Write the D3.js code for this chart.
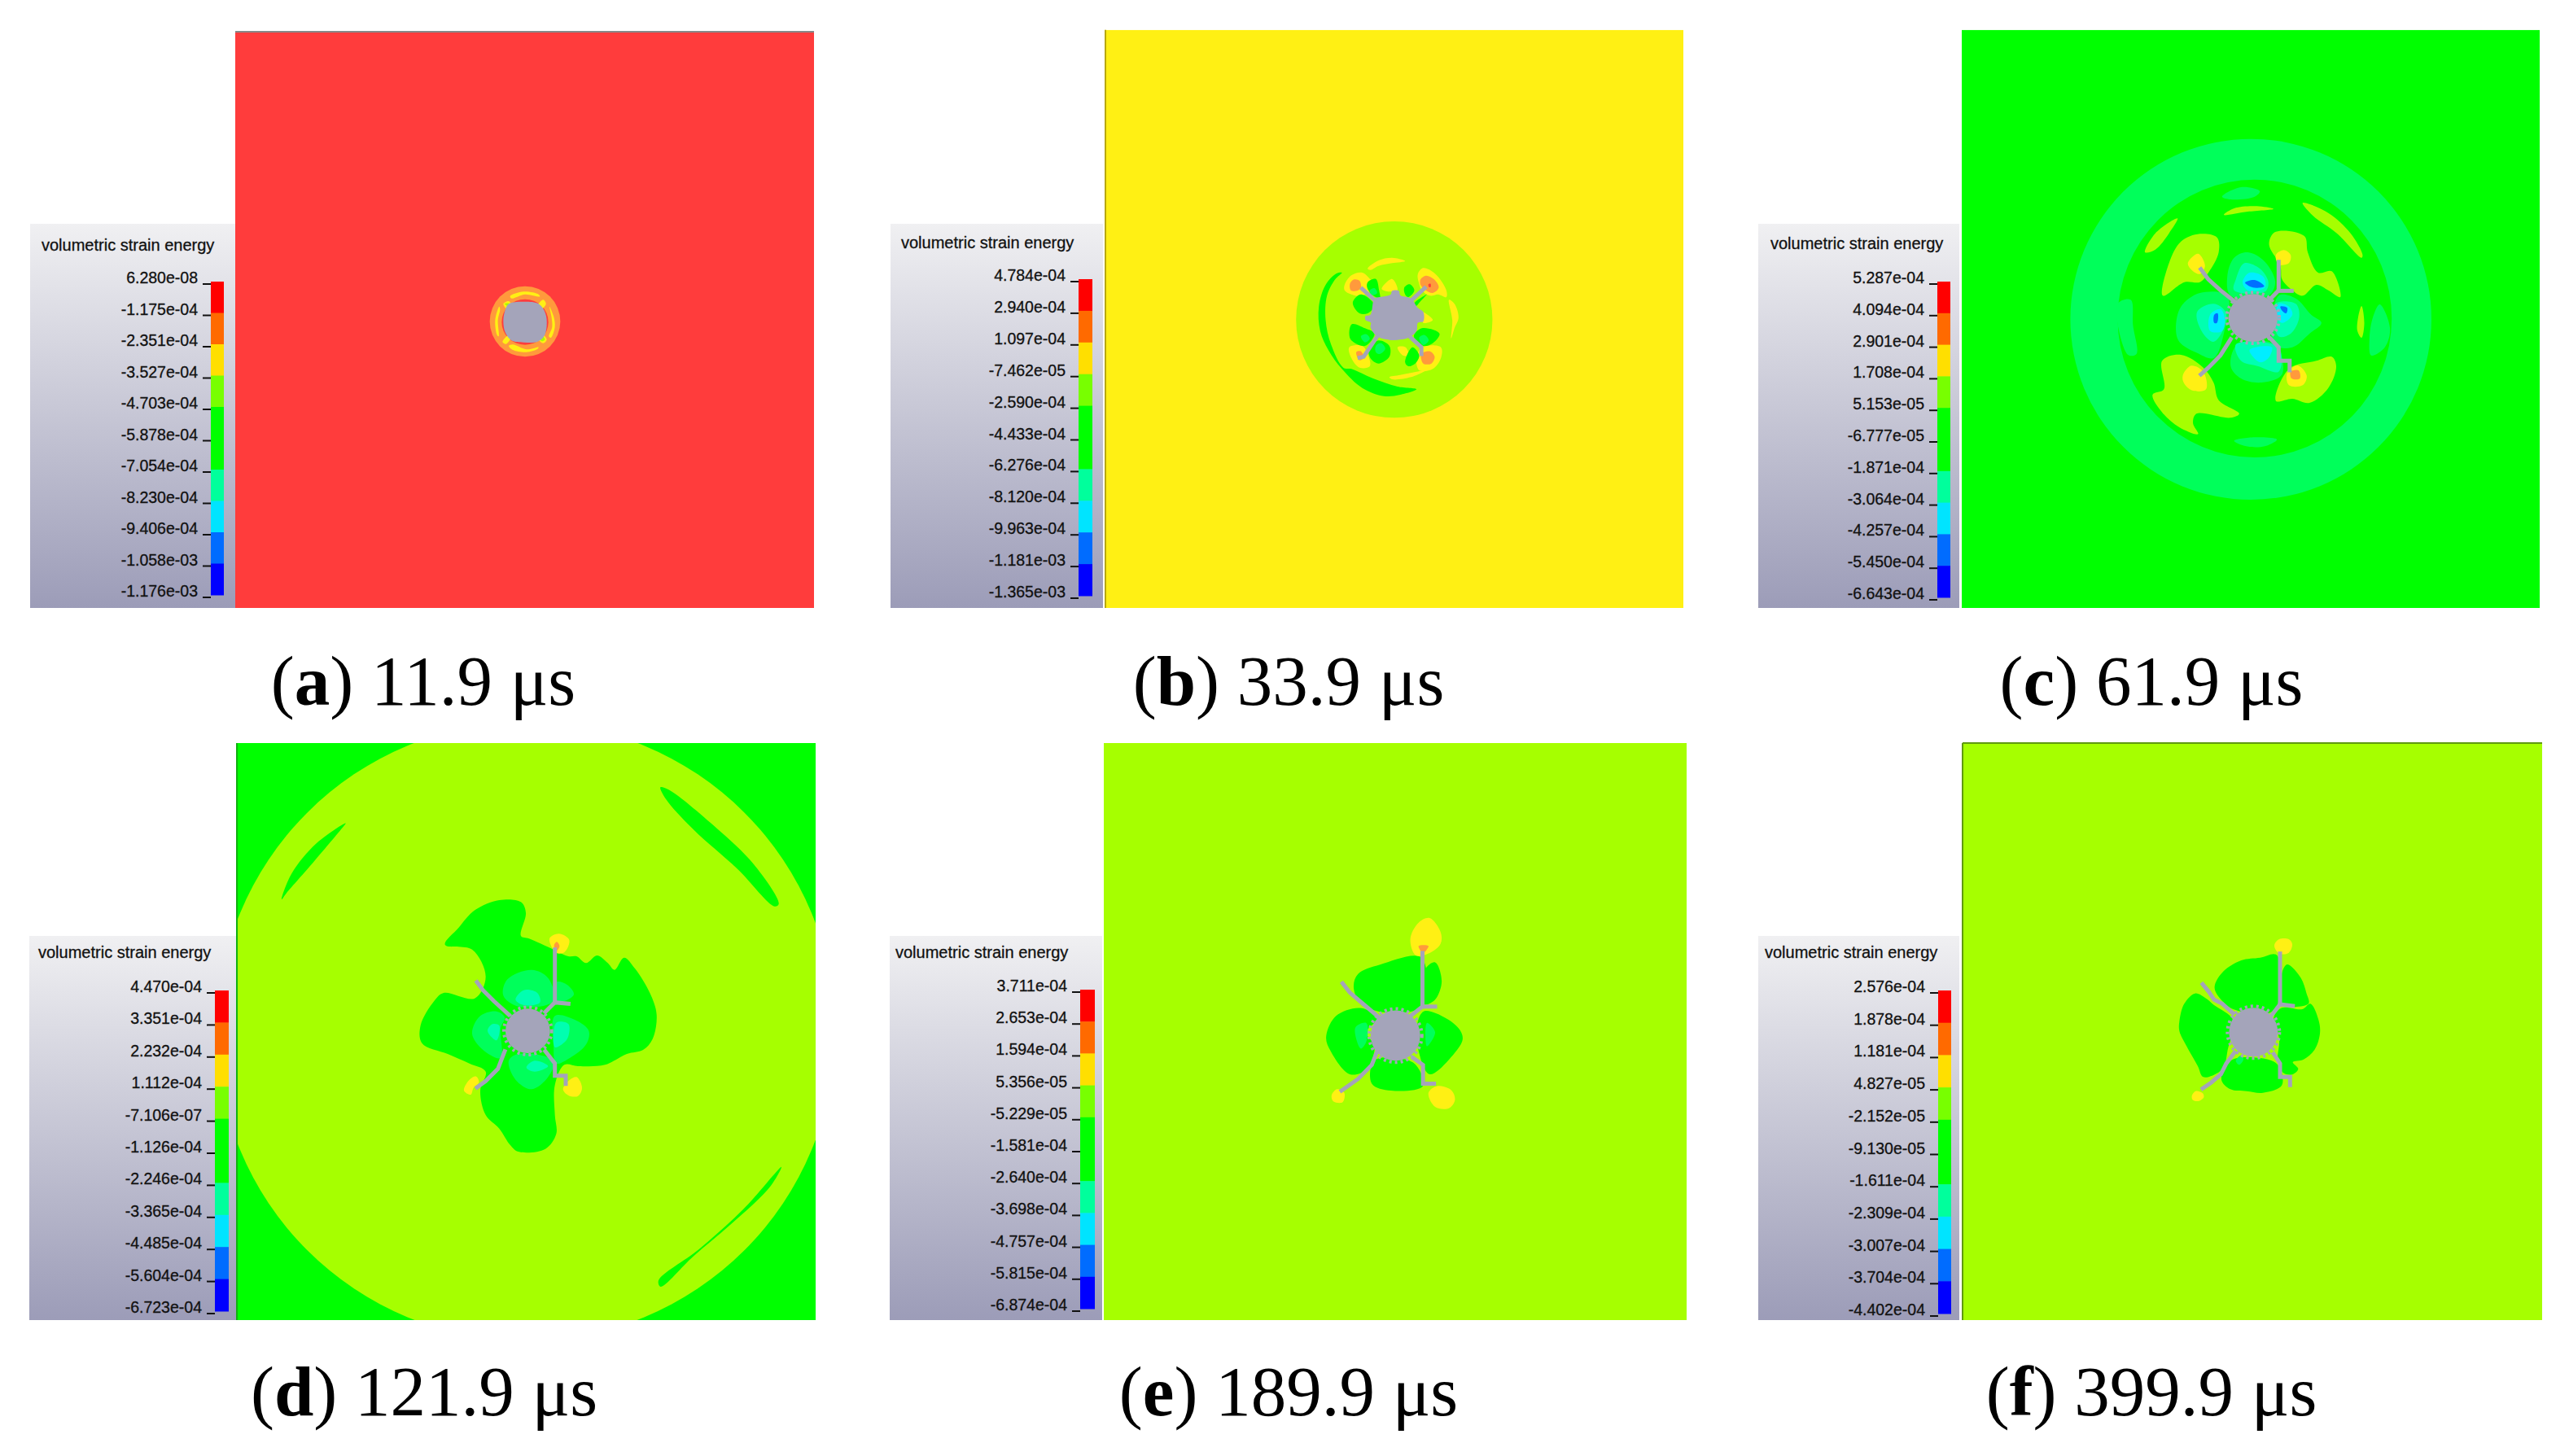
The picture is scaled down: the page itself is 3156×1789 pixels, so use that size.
<!DOCTYPE html>
<html>
<head>
<meta charset="utf-8">
<script src="https://cdn.jsdelivr.net/npm/d3@7"></script>
<style>
  html, body { margin: 0; background: #fff; }
  svg { display: block; }
  .tick-label text { font-family: "Liberation Sans", sans-serif; font-size: 19.5px; fill: #111; stroke: #111; stroke-width: 0.3px; }
</style>
</head>
<body>
<div id="chart"></div>
<script>
// legend tick labels
var labelsA = ["6.280e-08","-1.175e-04","-2.351e-04","-3.527e-04","-4.703e-04","-5.878e-04","-7.054e-04","-8.230e-04","-9.406e-04","-1.058e-03","-1.176e-03"];
var labelsB = ["4.784e-04","2.940e-04","1.097e-04","-7.462e-05","-2.590e-04","-4.433e-04","-6.276e-04","-8.120e-04","-9.963e-04","-1.181e-03","-1.365e-03"];
var labelsC = ["5.287e-04","4.094e-04","2.901e-04","1.708e-04","5.153e-05","-6.777e-05","-1.871e-04","-3.064e-04","-4.257e-04","-5.450e-04","-6.643e-04"];
var labelsD = ["4.470e-04","3.351e-04","2.232e-04","1.112e-04","-7.106e-07","-1.126e-04","-2.246e-04","-3.365e-04","-4.485e-04","-5.604e-04","-6.723e-04"];
var labelsE = ["3.711e-04","2.653e-04","1.594e-04","5.356e-05","-5.229e-05","-1.581e-04","-2.640e-04","-3.698e-04","-4.757e-04","-5.815e-04","-6.874e-04"];
var labelsF = ["2.576e-04","1.878e-04","1.181e-04","4.827e-05","-2.152e-05","-9.130e-05","-1.611e-04","-2.309e-04","-3.007e-04","-3.704e-04","-4.402e-04"];

var legendColours = ["#ff0000","#ff6a00","#ffdf00","#78ff00","#00ff00","#00ff00","#00ff9c","#00e4ff","#006cff","#0000ff"];

// contour fill for each level
var levelNames = ["red","orange","yellow","lime","green","spring","teal","cyan","blue","gray"];
var levelColours = ["#ff3c3c","#ff9a3c","#fff014","#a6ff00","#00ff00","#00ff5a","#00ffb0","#00eeff","#0070ff","#a4a4ba"];

// contour regions in mesh coordinates of each panel: ellipses [level, cx, cy, rx, ry], blobs [level, outline]
var ellipsesA = [["orange",195,195,130,130],["red",195,197,86,84]];
var blobsA = [
  ["yellow",[[140,102],[190,85],[245,95],[250,103],[195,95],[145,110]]],
  ["yellow",[[135,285],[150,280],[200,298],[245,290],[240,297],[200,308],[150,300]]],
  ["yellow",[[85,190],[100,140],[103,150],[95,190],[98,250],[92,245]]],
  ["yellow",[[285,140],[300,175],[305,215],[290,255],[283,250],[295,215],[292,175]]],
  ["yellow",[[115,130],[135,120],[150,145],[135,155]]],
  ["lime",[[120,130],[135,128],[140,143]]],
  ["yellow",[[240,140],[262,115],[272,130],[255,150]]],
  ["yellow",[[240,255],[255,240],[275,262],[262,275]]],
  ["lime",[[247,255],[258,247],[268,262],[258,268]]],
  ["yellow",[[112,270],[138,243],[145,250],[125,278]]],
  ["gray",[[120,160],[135,130],[190,122],[245,130],[270,165],[275,210],[265,250],[240,270],[190,272],[145,265],[122,235],[115,195]]]
];

var ellipsesB = [["lime",458,428,362,362]];
var blobsB = [
  ["green",[[245,258],[205,300],[180,380],[185,470],[215,540],[265,610],[340,680],[420,710],[480,705],[540,685],[470,675],[380,645],[300,610],[270,605],[225,520],[205,430],[210,340],[240,280],[265,255]]],
  ["yellow",[[360,240],[400,210],[450,200],[498,212],[450,220],[400,230],[370,245]]],
  ["yellow",[[275,300],[300,265],[340,255],[370,280],[385,300],[340,340],[300,335],[275,320]]],
  ["orange",[[295,295],[310,280],[330,285],[335,310],[320,322],[298,320]]],
  ["yellow",[[545,260],[565,238],[610,260],[650,320],[650,345],[620,335],[590,340],[560,320],[548,290]]],
  ["orange",[[555,280],[575,266],[605,280],[622,310],[600,330],[575,320],[555,300]]],
  ["red",[[584,298],[592,296],[592,308],[586,308]]],
  ["yellow",[[412,315],[450,278],[470,320],[440,325]]],
  ["yellow",[[660,355],[680,370],[695,420],[680,460],[668,497],[672,430]]],
  ["yellow",[[560,400],[600,430],[565,440]]],
  ["yellow",[[292,530],[340,525],[360,555],[368,600],[330,605],[300,570]]],
  ["orange",[[318,548],[335,545],[345,570],[330,578]]],
  ["yellow",[[540,570],[560,530],[630,530],[630,570],[600,610],[550,615]]],
  ["orange",[[558,555],[590,545],[607,565],[595,590],[565,590]]],
  ["yellow",[[440,640],[480,632],[540,620],[580,612],[520,640],[450,648]]],
  ["yellow",[[470,530],[500,530],[510,560],[490,560]]],
  ["green",[[360,290],[390,278],[402,320],[405,350],[375,335],[358,310]]],
  ["green",[[305,365],[335,335],[385,375],[360,405],[330,405]]],
  ["green",[[495,310],[515,298],[532,320],[510,345],[498,335]]],
  ["green",[[292,480],[302,445],[350,460],[385,480],[350,525],[300,505]]],
  ["green",[[365,535],[400,505],[440,525],[440,565],[400,590],[370,570]]],
  ["green",[[498,585],[525,530],[550,560],[535,590],[510,600]]],
  ["green",[[530,490],[560,460],[625,480],[600,515],[565,525]]],
  ["green",[[530,370],[578,335],[555,360],[538,378]]],
  ["spring",[[368,320],[385,312],[395,330],[375,338]]],
  ["spring",[[335,490],[355,482],[368,498],[350,512]]],
  ["spring",[[390,525],[410,515],[425,535],[405,555],[390,548]]],
  ["spring",[[550,495],[570,485],[585,505],[565,522]]],
  ["gray",[[385,350],[405,345],[445,335],[450,322],[475,322],[480,338],[520,350],[545,385],[565,400],[565,435],[545,440],[540,470],[510,495],[470,503],[440,503],[395,490],[370,455],[372,440],[352,430],[352,415],[370,410]]]
];
var cracksB = [
  [[395,365],[340,315]],
  [[520,358],[570,312]],
  [[395,490],[345,565],[330,568]],
  [[520,495],[558,530],[558,555]]
];

var ellipsesC = [["spring",749,727,527,665],["green",760,724,400,512]];
var blobsC = [
  ["spring",[[360,670],[398,655],[405,750],[415,855],[390,858]]],
  ["spring",[[1125,672],[1155,760],[1140,830],[1100,860],[1095,800],[1105,720]]],
  ["spring",[[665,275],[720,240],[775,255],[760,275],[690,285]]],
  ["spring",[[700,1175],[760,1162],[825,1170],[790,1195],[735,1195]]],
  ["lime",[[670,342],[700,318],[760,310],[815,320],[740,330]]],
  ["lime",[[440,480],[470,410],[535,355],[510,410],[470,470]]],
  ["lime",[[900,298],[975,335],[1040,410],[1075,490],[1072,500],[1000,410],[930,345]]],
  ["lime",[[1072,678],[1080,740],[1072,795],[1060,770],[1062,720]]],
  ["lime",[[492,640],[510,520],[545,440],[600,412],[650,425],[655,480],[625,555],[600,590],[555,590]]],
  ["lime",[[802,450],[820,405],[905,420],[915,480],[945,555],[985,550],[1010,645],[975,620],[940,600],[900,640],[870,620],[840,580],[835,530]]],
  ["lime",[[462,1005],[495,985],[490,880],[545,858],[610,905],[640,960],[655,1025],[715,1075],[690,1090],[590,1075],[580,1110],[595,1150],[540,1125],[490,1070]]],
  ["lime",[[822,1028],[860,910],[940,880],[985,865],[998,900],[975,980],[920,1035],[870,1020]]],
  ["yellow",[[565,520],[595,485],[615,530],[600,560],[580,550]]],
  ["yellow",[[822,490],[845,472],[865,490],[860,520],[830,525]]],
  ["yellow",[[550,935],[575,898],[610,920],[618,985],[580,990],[555,965]]],
  ["yellow",[[855,925],[885,897],[912,935],[900,970],[860,970]]],
  ["orange",[[865,920],[888,915],[892,945],[868,945]]],
  ["spring",[[680,570],[700,500],[740,480],[790,515],[820,590],[800,640],[690,640]]],
  ["spring",[[530,760],[545,680],[600,630],[680,640],[670,780],[640,870],[590,850],[540,810]]],
  ["spring",[[830,640],[880,650],[925,710],[955,740],[920,780],[870,830],[815,820]]],
  ["spring",[[690,900],[710,820],[820,820],[840,930],[780,960],[720,945]]],
  ["teal",[[705,580],[730,520],[775,540],[800,590],[790,625],[700,620]]],
  ["teal",[[592,700],[640,670],[675,700],[670,760],[640,810],[605,770]]],
  ["teal",[[820,670],[880,670],[890,720],[865,780],[830,790]]],
  ["teal",[[705,820],[830,830],[830,920],[770,900],[720,880]]],
  ["cyan",[[725,590],[745,555],[785,570],[790,610],[740,620]]],
  ["cyan",[[630,710],[660,690],[672,720],[665,770],[630,770]]],
  ["cyan",[[830,670],[860,680],[870,710],[840,740],[825,720]]],
  ["cyan",[[745,840],[810,830],[800,870],[775,885]]],
  ["blue",[[732,592],[760,582],[788,605],[755,610]]],
  ["blue",[[642,710],[652,705],[650,740],[642,740]]],
  ["blue",[[835,680],[855,685],[852,705],[840,695]]]
];
var cracksC = [
  [[603,542],[625,580],[660,620],[700,660]],
  [[603,930],[625,905],[660,860],[690,800]],
  [[830,515],[830,620],[800,660]],
  [[830,622],[868,622]],
  [[800,790],[830,830],[830,880],[862,880],[862,915]]
];
var boreC = [755,722,72,88];

var ellipsesD = [["lime",588,652,1140,1140]];
var blobsD = [
  ["green",[[1084,-248],[1114,-239],[1266,-119],[1428,36],[1520,182],[1505,191],[1368,53],[1205,-93],[1104,-205]]],
  ["green",[[-76,-115],[-184,-41],[-275,70],[-312,165],[-295,143],[-194,27],[-93,-93]]],
  ["green",[[1530,1151],[1489,1223],[1347,1360],[1205,1481],[1084,1593],[1077,1570],[1226,1455],[1388,1309]]],
  ["green",[[290,332],[340,270],[400,205],[490,168],[570,175],[588,215],[570,300],[600,310],[690,350],[745,375],[775,375],[810,400],[850,372],[890,400],[915,425],[950,380],[990,420],[1045,510],[1070,590],[1055,680],[1020,720],[960,735],[880,775],[780,780],[730,775],[695,850],[695,960],[700,1030],[660,1085],[560,1095],[530,1070],[490,1010],[440,960],[420,870],[440,800],[380,770],[300,735],[205,695],[200,630],[250,540],[285,510],[400,530],[440,450],[390,350]]],
  ["spring",[[505,520],[520,460],[610,425],[670,455],[690,540],[560,560]]],
  ["spring",[[700,470],[740,480],[765,515],[730,540],[700,540]]],
  ["spring",[[695,595],[770,610],[820,650],[810,700],[750,750],[700,770],[690,700]]],
  ["spring",[[390,660],[420,595],[480,578],[510,600],[495,640],[495,750],[430,720]]],
  ["spring",[[525,760],[560,735],[690,760],[670,820],[610,865],[550,830]]],
  ["teal",[[550,535],[580,500],[630,510],[640,545],[580,555]]],
  ["teal",[[700,620],[745,625],[740,680],[695,710]]],
  ["teal",[[447,650],[465,625],[490,630],[480,685]]],
  ["teal",[[590,785],[620,760],[670,780],[620,800]]],
  ["yellow",[[675,310],[710,292],[748,315],[730,360],[700,362]]],
  ["orange",[[692,335],[702,322],[712,338],[700,355]]],
  ["yellow",[[360,870],[380,830],[405,818],[415,840],[395,860],[385,885]]],
  ["yellow",[[725,865],[750,830],[775,820],[795,860],[780,890],[745,888]]]
];
var cracksD = [
  [[695,545],[695,350]],
  [[660,580],[695,545],[745,550]],
  [[408,470],[430,500],[470,540],[525,590]],
  [[408,858],[440,835],[485,790],[510,725]],
  [[660,725],[695,770],[695,815],[735,815],[735,845]]
];
var boreD = [595,650,82,82];

var blobsE = [
  ["green",[[892,560],[900,535],[940,515],[1015,500],[1015,605],[935,615],[900,590]]],
  ["green",[[1020,600],[1022,525],[1040,510],[1052,550],[1040,590]]],
  ["green",[[842,670],[860,625],[905,608],[935,630],[915,660],[930,690],[915,740],[885,750],[850,700]]],
  ["green",[[1008,640],[1020,615],[1060,630],[1085,655],[1090,675],[1075,705],[1030,750],[1010,700]]],
  ["green",[[925,770],[930,720],[1000,725],[1018,775],[960,785]]],
  ["yellow",[[995,460],[1010,425],[1030,415],[1050,445],[1050,470],[1030,490],[1005,495]]],
  ["orange",[[1010,475],[1028,475],[1018,490]]],
  ["yellow",[[852,795],[862,782],[875,790],[872,810],[855,808]]],
  ["yellow",[[1028,790],[1045,775],[1070,785],[1076,805],[1065,823],[1040,820]]],
  ["spring",[[895,650],[915,640],[915,680],[905,695]]],
  ["spring",[[1025,640],[1040,660],[1025,690]]]
];
var cracksE = [
  [[1017,490],[1017,605]],
  [[1017,605],[1040,605]],
  [[1017,605],[990,630]],
  [[872,555],[885,575],[910,600],[940,630]],
  [[870,785],[900,760],[925,730],[935,700]],
  [[1000,715],[1018,730],[1018,770],[1038,770]]
];
var boreE = [968,667,45,54];

var blobsF = [
  ["green",[[303,240],[335,190],[400,150],[470,140],[530,130],[540,310],[500,345],[370,330],[335,305],[305,265]]],
  ["green",[[552,190],[570,165],[620,215],[640,270],[648,310],[548,310]]],
  ["green",[[520,360],[550,325],[625,330],[655,310],[685,370],[690,420],[670,480],[630,515],[590,525],[610,550],[590,570],[555,565],[535,520],[540,440]]],
  ["green",[[172,375],[190,310],[230,272],[270,290],[300,315],[370,370],[350,480],[340,530],[320,560],[260,580],[240,540],[195,460],[172,410]]],
  ["green",[[327,590],[350,530],[385,510],[530,530],[550,610],[480,638],[420,632],[360,625]]],
  ["spring",[[380,520],[400,500],[408,515],[392,535]]],
  ["yellow",[[522,95],[540,72],[575,72],[588,90],[575,122],[540,125]]],
  ["yellow",[[218,650],[232,632],[258,640],[262,655],[245,668],[222,665]]]
];
var cracksF = [
  [[543,125],[543,310]],
  [[543,312],[590,318]],
  [[543,312],[510,355]],
  [[258,238],[280,265],[300,295],[330,310],[370,345]],
  [[258,622],[290,600],[325,570],[345,530],[375,490]],
  [[520,495],[543,530],[543,580],[580,580],[580,610]]
];
var boreF = [445,415,90,90];

var captions = [["a","11.9"],["b","33.9"],["c","61.9"],["d","121.9"],["e","189.9"],["f","399.9"]];

// page layout of the six panels
var panels = [
  {labels: labelsA, ellipses: ellipsesA, blobs: blobsA, cracks: [], bore: null, bg: "red",
   xDomain: [-873,1260], yDomain: [-873,1251], box: [289,1000,39,747], legend: [37,289,275], bar: [259,275,346,731], titleX: 51, titleY: 308, capX: 520, capY: 866, edge: ["top","#888"]},
  {labels: labelsB, ellipses: ellipsesB, blobs: blobsB, cracks: cracksB, bore: null, bg: "yellow",
   xDomain: [-607,1524], yDomain: [-640,1491], box: [1358,2068,36.7,747], legend: [1094,1355,275], bar: [1325,1342,343,732], titleX: 1107, titleY: 305, capX: 1583, capY: 866, edge: ["left","#b8a810"]},
  {labels: labelsC, ellipses: ellipsesC, blobs: blobsC, cracks: cracksC, bore: boreC, bg: "green",
   xDomain: [-95,1592], yDomain: [-340,1791], box: [2410,3120,36.7,747], legend: [2160,2407,275], bar: [2380,2396,346,734], titleX: 2175, titleY: 306, capX: 2643, capY: 866, edge: null},
  {labels: labelsD, ellipses: ellipsesD, blobs: blobsD, cracks: cracksD, bore: boreD, bg: "green",
   xDomain: [-477,1656], yDomain: [-411,1716], box: [291,1002,913,1622], legend: [36,291,1150], bar: [264,281,1217,1611], titleX: 47, titleY: 1177, capX: 521, capY: 1739, edge: ["left","#10b010"]},
  {labels: labelsE, ellipses: [], blobs: blobsE, cracks: cracksE, bore: boreE, bg: "lime",
   xDomain: [438,1497], yDomain: [40,1277], box: [1356,2072,913,1622], legend: [1093,1354,1150], bar: [1327,1345,1216,1608], titleX: 1100, titleY: 1177, capX: 1583, capY: 1739, edge: null},
  {labels: labelsF, ellipses: [], blobs: blobsF, cracks: cracksF, bore: boreF, bg: "lime",
   xDomain: [-627,1509], yDomain: [-651,1476], box: [2411,3123,913,1622], legend: [2160,2407,1150], bar: [2381,2397,1217,1614], titleX: 2168, titleY: 1177, capX: 2643, capY: 1739, edge: ["both","#5f9a10"]}
];

var level = d3.scaleOrdinal(levelNames, levelColours);

var svg = d3.select("#chart").append("svg")
  .attr("width", 3156)
  .attr("height", 1789);

var defs = svg.append("defs");
var grad = defs.append("linearGradient")
  .attr("id", "legend-bg")
  .attr("x1", 0).attr("y1", 0).attr("x2", 0).attr("y2", 1);
grad.append("stop").attr("offset", "0%").attr("stop-color", "#f0f0f2");
grad.append("stop").attr("offset", "100%").attr("stop-color", "#9c9cb8");

panels.forEach(function(p, i) {
  var left = p.box[0], right = p.box[1], top = p.box[2], bottom = p.box[3];
  var x = d3.scaleLinear().domain(p.xDomain).range([left, right]);
  var y = d3.scaleLinear().domain(p.yDomain).range([top, bottom]);

  // legend
  svg.append("rect")
    .attr("x", p.legend[0])
    .attr("y", p.legend[2])
    .attr("width", p.legend[1] - p.legend[0])
    .attr("height", bottom - p.legend[2])
    .attr("fill", "url(#legend-bg)");

  svg.append("text")
    .attr("x", p.titleX)
    .attr("y", p.titleY)
    .attr("font-family", "Liberation Sans, sans-serif")
    .attr("font-size", 20)
    .attr("fill", "#111")
    .attr("stroke", "#111")
    .attr("stroke-width", 0.3)
    .text("volumetric strain energy");

  var band = d3.scaleBand()
    .domain(p.labels.slice(1))
    .range([p.bar[2], p.bar[3]]);

  svg.append("g").selectAll("rect")
    .data(p.labels.slice(1))
    .enter()
    .append("rect")
    .attr("x", p.bar[0])
    .attr("y", function(d) { return band(d); })
    .attr("width", p.bar[1] - p.bar[0])
    .attr("height", band.bandwidth() + 0.5)
    .attr("fill", function(d, j) { return legendColours[j]; });

  var tickScale = d3.scalePoint()
    .domain(p.labels)
    .range([p.bar[2] + 2.5, p.bar[3] + 2.5]);

  var axis = svg.append("g")
    .attr("class", "tick-label")
    .attr("transform", "translate(" + p.bar[0] + ",0)")
    .call(d3.axisLeft(tickScale).tickSize(10).tickPadding(6));
  axis.select(".domain").remove();
  axis.selectAll("line").attr("stroke", "#111").attr("stroke-width", 2);
  axis.selectAll("text").attr("dy", "-0.05em");

  // contour field, clipped to the panel
  defs.append("clipPath")
    .attr("id", "clip" + i)
    .append("rect")
    .attr("x", left)
    .attr("y", top)
    .attr("width", right - left)
    .attr("height", bottom - top);

  var field = svg.append("g").attr("clip-path", "url(#clip" + i + ")");

  field.append("rect")
    .attr("x", left)
    .attr("y", top)
    .attr("width", right - left)
    .attr("height", bottom - top)
    .attr("fill", level(p.bg));

  field.selectAll("ellipse.ring")
    .data(p.ellipses)
    .enter()
    .append("ellipse")
    .attr("class", "ring")
    .attr("cx", function(d) { return x(d[1]); })
    .attr("cy", function(d) { return y(d[2]); })
    .attr("rx", function(d) { return x(d[1] + d[3]) - x(d[1]); })
    .attr("ry", function(d) { return y(d[2] + d[4]) - y(d[2]); })
    .attr("fill", function(d) { return level(d[0]); });

  var outline = d3.line()
    .x(function(d) { return x(d[0]); })
    .y(function(d) { return y(d[1]); })
    .curve(d3.curveCatmullRomClosed.alpha(0.5));

  field.selectAll("path.blob")
    .data(p.blobs)
    .enter()
    .append("path")
    .attr("class", "blob")
    .attr("d", function(d) { return outline(d[1]); })
    .attr("fill", function(d) { return level(d[0]); });

  var crackLine = d3.line()
    .x(function(d) { return x(d[0]); })
    .y(function(d) { return y(d[1]); });

  field.selectAll("path.crack")
    .data(p.cracks)
    .enter()
    .append("path")
    .attr("class", "crack")
    .attr("d", crackLine)
    .attr("fill", "none")
    .attr("stroke", level("gray"))
    .attr("stroke-width", 5)
    .attr("stroke-linecap", "square");

  if (p.bore) {
    var cx = x(p.bore[0]), cy = y(p.bore[1]);
    var rx = x(p.bore[0] + p.bore[2]) - cx, ry = y(p.bore[1] + p.bore[3]) - cy;
    // broken rim around the borehole
    field.append("ellipse")
      .attr("cx", cx).attr("cy", cy)
      .attr("rx", rx + 2).attr("ry", ry + 2)
      .attr("fill", "none")
      .attr("stroke", level("gray"))
      .attr("stroke-width", 4)
      .attr("stroke-dasharray", "3 4");
    field.append("ellipse")
      .attr("cx", cx).attr("cy", cy)
      .attr("rx", rx).attr("ry", ry)
      .attr("fill", level("gray"));
  }

  if (p.edge) {
    if (p.edge[0] == "top" || p.edge[0] == "both") {
      svg.append("rect").attr("x", left).attr("y", top - 1).attr("width", right - left).attr("height", 2).attr("fill", p.edge[1]);
    }
    if (p.edge[0] == "left" || p.edge[0] == "both") {
      svg.append("rect").attr("x", left - 1).attr("y", top).attr("width", 2).attr("height", bottom - top).attr("fill", p.edge[1]);
    }
  }

  // caption
  var cap = svg.append("text")
    .attr("x", p.capX)
    .attr("y", p.capY)
    .attr("text-anchor", "middle")
    .attr("font-family", "Liberation Serif, serif")
    .attr("font-size", 87)
    .attr("fill", "#000");
  cap.append("tspan").text("(");
  cap.append("tspan").attr("font-weight", "bold").text(captions[i][0]);
  cap.append("tspan").text(") " + captions[i][1] + " \u03bcs");
});
</script>
</body>
</html>
